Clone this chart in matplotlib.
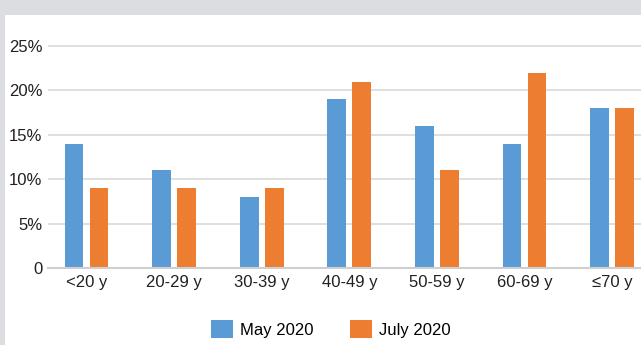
import matplotlib.pyplot as plt
from matplotlib.patches import Rectangle
import numpy as np

plt.rcParams['font.family'] = ['Liberation Sans', 'DejaVu Sans']

ages = ["<20 y", "20-29 y", "30-39 y", "40-49 y", "50-59 y", "60-69 y", "≤70 y"]
may_2020 = [14, 11, 8, 19, 16, 14, 18]
july_2020 = [9, 9, 9, 21, 11, 22, 18]
yticks = [0, 5, 10, 15, 20, 25]
ytick_labels = ["0", "5%", "10%", "15%", "20%", "25%"]

W, H = 641, 345
fig = plt.figure(figsize=(W / 100, H / 100), dpi=100, facecolor="#dcdde0")
# white panel on the gray page
fig.patches.append(Rectangle((5 / W, 0), 1, 1 - 15 / H, transform=fig.transFigure,
                             facecolor="white", edgecolor="none", zorder=-5))

# axes placed in pixels: x from 48 to 641, y from 268 (zero) up
ytop = 25.5
ppu = (268 - 46) / 25
ax = fig.add_axes([48 / W, (H - 268) / H, (W - 48) / W, ytop * ppu / H])
ax.patch.set_alpha(0)

x = np.arange(len(ages))
bw = 0.215
off = 0.143
ax.bar(x - off, may_2020, bw, color="#5b9bd5", label="May 2020", zorder=2)
ax.bar(x + off, july_2020, bw, color="#ed7d31", label="July 2020", zorder=2)

ax.set_xlim(-0.44, 6.33)
ax.set_ylim(0, ytop)
ax.set_yticks(yticks)
ax.set_yticklabels(ytick_labels)
ax.set_xticks(x)
ax.set_xticklabels(ages)
ax.tick_params(axis="both", length=0, labelsize=12, colors="#231f20")
ax.tick_params(axis="y", pad=4)
ax.tick_params(axis="x", pad=5)
ax.yaxis.grid(True, color="#d9d9d9", linewidth=1.2, zorder=0)
ax.set_axisbelow(True)
for s in ["top", "right", "left"]:
    ax.spines[s].set_visible(False)
ax.spines["bottom"].set_color("#cfcfcf")
ax.spines["bottom"].set_linewidth(1.5)

fig.legend(loc="center", bbox_to_anchor=(331 / W, 1 - 329 / H), ncol=2, frameon=False,
           fontsize=12, handlelength=1.3, handleheight=1.35, handletextpad=0.45,
           columnspacing=2.2)

fig.savefig("out.png", dpi=100, facecolor=fig.get_facecolor())
